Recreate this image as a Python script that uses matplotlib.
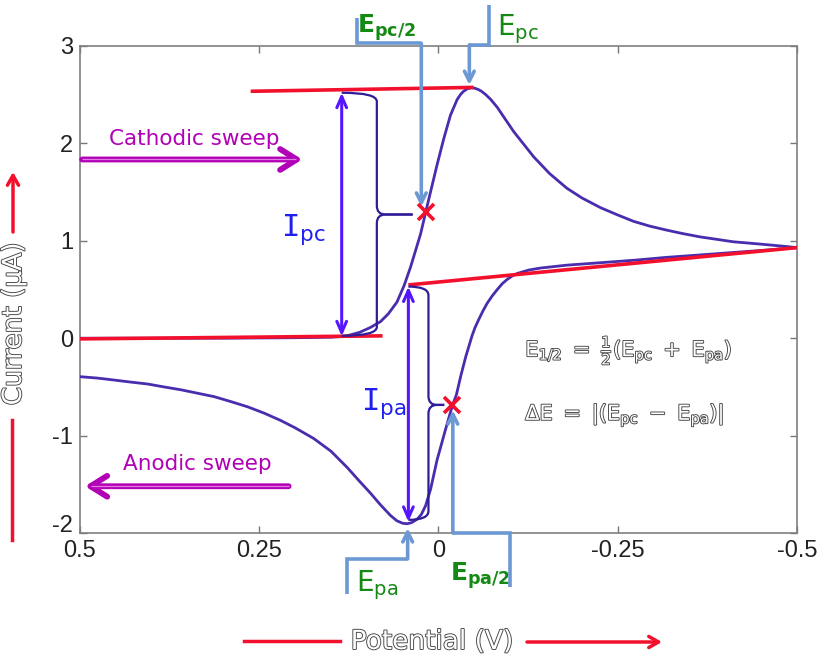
import matplotlib
matplotlib.use('Agg')
import matplotlib.pyplot as plt
import matplotlib.patheffects as pe
import matplotlib.transforms as mtransforms
from matplotlib.path import Path
from matplotlib.patches import PathPatch, FancyArrowPatch
from matplotlib.lines import Line2D

plt.rcParams['axes.unicode_minus'] = False
plt.rcParams['mathtext.fontset'] = 'dejavusans'
plt.rcParams['font.family'] = ['DejaVu Sans']

# ---------------- data ----------------
fwd_E = [0.5, 0.4, 0.3, 0.2, 0.15, 0.13, 0.11, 0.095, 0.081, 0.07, 0.058, 0.048, 0.039,
         0.032, 0.025, 0.018, 0.011, 0.002, -0.0074, -0.0167, -0.026, -0.031, -0.035,
         -0.040, -0.045, -0.050, -0.055, -0.060, -0.066, -0.073, -0.082, -0.093, -0.105,
         -0.119, -0.133, -0.155, -0.179, -0.2, -0.226, -0.25, -0.272,
         -0.295, -0.318, -0.34, -0.365, -0.39, -0.411, -0.435, -0.458, -0.48, -0.5]
fwd_I = [0.0, 0.0, 0.0, 0.005, 0.01, 0.02, 0.06, 0.11, 0.17, 0.25, 0.37, 0.54, 0.73,
         0.90, 1.07, 1.29, 1.505, 1.78, 2.05, 2.29, 2.45, 2.505, 2.535,
         2.56, 2.57, 2.568, 2.555, 2.535, 2.50, 2.45, 2.37, 2.25, 2.12,
         1.99, 1.86, 1.69, 1.54, 1.44, 1.34, 1.265, 1.20,
         1.15, 1.11, 1.075, 1.04, 1.013, 0.99, 0.975, 0.96, 0.945, 0.93]

rev_E = [-0.5, -0.458, -0.411, -0.365, -0.318, -0.272, -0.226, -0.179, -0.142, -0.126,
         -0.11, -0.103, -0.096, -0.089, -0.082, -0.075, -0.068, -0.062, -0.056, -0.051,
         -0.047, -0.038, -0.031, -0.025, -0.019, -0.0097,
         0.002, 0.011, 0.018, 0.024, 0.030, 0.038, 0.044, 0.050, 0.058, 0.067, 0.081, 0.095,
         0.11, 0.127, 0.15, 0.174, 0.2, 0.22, 0.243, 0.266, 0.29, 0.313, 0.336, 0.359, 0.383,
         0.406, 0.43, 0.452, 0.475, 0.5]
rev_I = [0.93, 0.905, 0.88, 0.855, 0.83, 0.80, 0.775, 0.75, 0.72, 0.70,
         0.665, 0.64, 0.605, 0.56, 0.50, 0.435, 0.36, 0.28, 0.19, 0.11,
         0.03, -0.19, -0.39, -0.58, -0.70, -0.94,
         -1.25, -1.55, -1.72, -1.81, -1.86, -1.895, -1.905, -1.90, -1.875, -1.82, -1.71, -1.59,
         -1.47, -1.33, -1.16, -1.03, -0.92, -0.845, -0.77, -0.705, -0.65, -0.60, -0.565, -0.53,
         -0.50, -0.47, -0.45, -0.43, -0.41, -0.395]

# baselines (red)
base_top_E = [0.262, -0.049]
base_top_I = [2.535, 2.575]
base_fwd_E = [0.5, 0.078]
base_fwd_I = [-0.007, 0.024]
base_rev_E = [0.042, -0.5]
base_rev_I = [0.547, 0.93]

# characteristic points
half_E = [0.018, -0.0195]
half_I = [1.297, -0.685]
Ipc_E, Ipc_top, Ipc_bot = 0.135, 2.52, 0.02
Ipa_E, Ipa_top, Ipa_bot = 0.042, 0.53, -1.885

xticks = [0.5, 0.25, 0, -0.25, -0.5]
xticklabels = ['0.5', '0.25', '0', '-0.25', '-0.5']
yticks = [-2, -1, 0, 1, 2, 3]
yticklabels = ['-2', '-1', '0', '1', '2', '3']

# ---------------- colours ----------------
CURVE = '#4a2cae'
RED = '#f2102c'
VIOLET = '#5516ff'
BRACE = '#2e1c98'
LBLUE = '#6c98d4'
GREEN = '#148a14'
MAGENTA = '#b200b6'
BLUE = '#2020ee'

W, H = 820, 657
def fx(px):
    return px / W
def fy(py):
    return 1 - py / H

fig = plt.figure(figsize=(8.2, 6.57), dpi=100)
ax = fig.add_axes([fx(80), fy(533), 717 / W, 487 / H])
ax.set_xlim(0.5, -0.5)
ax.set_ylim(-2, 3)
ax.set_xticks(xticks)
ax.set_xticklabels(xticklabels)
ax.set_yticks(yticks)
ax.set_yticklabels(yticklabels)
ax.tick_params(direction='in', length=5, width=1, color='#777777', top=True, right=True,
               labelsize=17, pad=5)
for lab in ax.get_xticklabels() + ax.get_yticklabels():
    lab.set_family('Liberation Sans')
    lab.set_color('#222222')
# the bottom y label sits a little higher, as in the reference
ylabs = ax.get_yticklabels()
ylabs[0].set_transform(ylabs[0].get_transform() +
                       mtransforms.ScaledTranslation(0, 9 / 100, fig.dpi_scale_trans))
for s in ax.spines.values():
    s.set_color('#808080')
    s.set_linewidth(1.2)

# curve
ax.plot(fwd_E, fwd_I, color=CURVE, lw=2, zorder=3, solid_joinstyle='round')
ax.plot(rev_E, rev_I, color=CURVE, lw=2, zorder=3, solid_joinstyle='round')

# red baselines
for e, i in [(base_top_E, base_top_I), (base_fwd_E, base_fwd_I), (base_rev_E, base_rev_I)]:
    ax.plot(e, i, color=RED, lw=2.6, zorder=4, solid_capstyle='butt')

# half-peak markers
ax.plot(half_E, half_I, linestyle='none', marker='x', ms=11, mew=2.6, color=RED, zorder=6)

# peak current double arrows
for xe, yt, yb in [(Ipc_E, Ipc_top, Ipc_bot), (Ipa_E, Ipa_top, Ipa_bot)]:
    ax.annotate('', xy=(xe, yb), xytext=(xe, yt),
                arrowprops=dict(arrowstyle='<->,head_width=0.35,head_length=0.8',
                                color=VIOLET, lw=2.2, shrinkA=0, shrinkB=0), zorder=5)

# braces
def brace(x0, ytop, ybot, xs, ymid, xtip, r, c):
    codes = [Path.MOVETO, Path.CURVE3, Path.CURVE3, Path.LINETO, Path.CURVE3, Path.CURVE3, Path.LINETO]
    top = [(x0, ytop), (xs, ytop), (xs, ytop - r), (xs, ymid + r), (xs, ymid), (xs + c, ymid), (xtip, ymid)]
    bot = [(x0, ybot), (xs, ybot), (xs, ybot + r), (xs, ymid - r), (xs, ymid), (xs + c, ymid), (xtip, ymid)]
    for v in (top, bot):
        ax.add_patch(PathPatch(Path(v, codes), fill=False, edgecolor=BRACE, lw=1.6, zorder=4))

brace(Ipc_E, Ipc_top, 0.025, 0.086, 1.27, 0.036, 0.09, -0.012)
brace(Ipa_E, Ipa_top, -1.865, 0.014, -0.685, -0.008, 0.09, -0.012)

# light blue bracket arrows
def bracket(xs, ys):
    ax.plot(xs[:-1], ys[:-1], color=LBLUE, lw=2.6, clip_on=False, zorder=5,
            solid_joinstyle='miter', solid_capstyle='butt')
    ax.annotate('', xy=(xs[-1], ys[-1]), xytext=(xs[-2], ys[-2]), annotation_clip=False,
                arrowprops=dict(arrowstyle='->,head_width=0.35,head_length=0.7', color=LBLUE,
                                lw=2.6, shrinkA=0, shrinkB=0, clip_on=False), zorder=5)

bracket([0.114, 0.114, 0.024, 0.024], [3.29, 3.027, 3.027, 1.35])
bracket([-0.07, -0.07, -0.043, -0.043], [3.42, 3.01, 3.01, 2.60])
bracket([0.127, 0.127, 0.043, 0.043], [-2.625, -2.265, -2.265, -1.95])
bracket([-0.10, -0.10, -0.02, -0.02], [-2.55, -2.0, -2.0, -0.74])

# green labels
ax.text(0.113, 3.19, r'$\mathbf{E_{pc/2}}$', color=GREEN, fontsize=18, ha='left', va='center',
        clip_on=False)
ax.text(-0.082, 3.17, r'$\mathrm{E_{pc}}$', color=GREEN, fontsize=20, ha='left', va='center',
        clip_on=False)
ax.text(0.115, -2.54, r'$\mathrm{E_{pa}}$', color=GREEN, fontsize=20, ha='left', va='center',
        clip_on=False)
ax.text(-0.016, -2.44, r'$\mathbf{E_{pa/2}}$', color=GREEN, fontsize=18, ha='left', va='center',
        clip_on=False)

# current labels
ax.text(0.188, 1.12, r'$\mathtt{I}_\mathrm{pc}$', color=BLUE, fontsize=22, ha='center', va='center')
ax.text(0.077, -0.67, r'$\mathtt{I}_\mathrm{pa}$', color=BLUE, fontsize=22, ha='center', va='center')

# sweep labels and arrows
def sweep_arrow(x_from, x_to, y):
    ax.annotate('', xy=(x_to, y), xytext=(x_from, y),
                arrowprops=dict(arrowstyle='->,head_width=0.75,head_length=1.2', color=MAGENTA,
                                lw=4.2, shrinkA=0, shrinkB=0), zorder=5)
    ax.plot([x_from, x_to + (x_from - x_to) * 0.03], [y, y], color='#e07ae4', lw=0.9,
            zorder=6, solid_capstyle='butt')

ax.text(0.341, 2.05, 'Cathodic sweep', color=MAGENTA, fontsize=15.5, ha='center', va='center')
sweep_arrow(0.497, 0.19, 1.835)
ax.text(0.336, -1.29, 'Anodic sweep', color=MAGENTA, fontsize=15.5, ha='center', va='center')
sweep_arrow(0.209, 0.493, -1.52)

# hollow equations
hollow = [pe.withStroke(linewidth=1.3, foreground='#444444')]
ax.text(-0.121, -0.12, r'$\mathrm{E_{1/2}\ =\ \frac{1}{2}(E_{pc}\ +\ E_{pa})}$', color='white',
        fontsize=15, ha='left', va='center', path_effects=hollow)
ax.text(-0.121, -0.79, r'$\mathrm{\Delta E\ =\ |(E_{pc}\ -\ E_{pa})|}$', color='white',
        fontsize=15, ha='left', va='center', path_effects=hollow)

# axis labels (hollow) with red arrows
fig.text(fx(14), fy(324), 'Current (μA)', rotation=90, fontsize=19, color='white',
         ha='center', va='center', path_effects=hollow)
fig.add_artist(Line2D([fx(12), fx(12)], [fy(420), fy(540)], color=RED, lw=2.5,
                      transform=fig.transFigure))
fig.add_artist(FancyArrowPatch((fx(13), fy(232)), (fx(13), fy(172)),
               transform=fig.transFigure, arrowstyle='->,head_width=4,head_length=7',
               color=RED, lw=2.5, shrinkA=0, shrinkB=0))

fig.text(fx(432), fy(642), 'Potential (V)', fontsize=19, color='white',
         ha='center', va='center', path_effects=hollow)
fig.add_artist(Line2D([fx(244), fx(340)], [fy(641), fy(641)], color=RED, lw=2.5,
                      transform=fig.transFigure))
fig.add_artist(FancyArrowPatch((fx(527), fy(642)), (fx(662), fy(642)),
               transform=fig.transFigure, arrowstyle='->,head_width=4,head_length=7',
               color=RED, lw=2.5, shrinkA=0, shrinkB=0))

fig.savefig('out.png', dpi=100, facecolor='white')
